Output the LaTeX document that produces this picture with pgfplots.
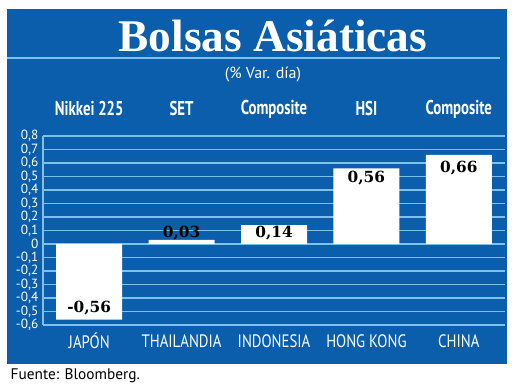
\documentclass[border=0pt]{standalone}
\usepackage{pgfplots}
\pgfplotsset{compat=1.18}
\usepackage{fontspec}
\setmainfont{PT Sans}
\newfontfamily\titlefont{Liberation Serif}
\newfontfamily\condfont[FakeStretch=0.82]{PT Sans}
\newfontfamily\condbold[FakeStretch=0.74]{PT Sans Bold}
\newfontfamily\valfont{DejaVu Serif}
\definecolor{panelblue}{RGB}{10,94,171}
\definecolor{gridblue}{RGB}{125,192,236}
\begin{document}
\begin{tikzpicture}[x=0.75pt,y=0.75pt]
\path[use as bounding box] (0,0) rectangle (520,391);
\fill[panelblue] (7,27) rectangle (507,382);
\fill[gridblue] (7,331.5) rectangle (500,333.5);
\node[text=white, font=\titlefont\bfseries\fontsize{34}{40}\selectfont] at (273,355) {Bolsas Asiáticas};
\node[text=white, font=\fontsize{12}{14}\selectfont] at (263,316) {(\% Var. día)};
\node[anchor=west, text=black, font=\fontsize{11.5}{14}\selectfont] at (6,15) {Fuente: Bloomberg.};
\coordinate (axc) at (274,160.5);
\begin{axis}[
  at={(axc)}, anchor=center, scale only axis,
  width=346.5pt, height=141.75pt,
  xmin=-0.5, xmax=4.5, ymin=-0.6, ymax=0.8,
  ybar, bar width=49.5pt,
  axis lines=left,
  axis line style={draw=gridblue, line width=1.2pt, -},
  ymajorgrids, grid style={draw=gridblue, line width=1.2pt},
  major tick length=0pt,
  ytick={-0.6,-0.5,-0.4,-0.3,-0.2,-0.1,0,0.1,0.2,0.3,0.4,0.5,0.6,0.7,0.8},
  xtick={0,1,2,3,4},
  xticklabels={JAPÓN,THAILANDIA,INDONESIA,HONG KONG,CHINA},
  xticklabel style={anchor=center, yshift=-12pt, text=white, font=\condfont\fontsize{13.5}{15}\selectfont},
  yticklabel style={text=white, font=\fontsize{10}{10}\selectfont, xshift=0pt},
  /pgf/number format/.cd, use comma, fixed, precision=1, assume math mode=true,
  /pgfplots/.cd,
  clip=false,
]
\addplot[fill=white, draw=none] coordinates {(0,-0.56) (1,0.03) (2,0.14) (3,0.56) (4,0.66)};
\node[font=\valfont\bfseries\fontsize{11.5}{14}\selectfont] at (axis cs:0,-0.474) {-0,56};
\node[font=\valfont\bfseries\fontsize{11.5}{14}\selectfont] at (axis cs:1,0.081) {0,03};
\node[font=\valfont\bfseries\fontsize{11.5}{14}\selectfont] at (axis cs:2,0.081) {0,14};
\node[font=\valfont\bfseries\fontsize{11.5}{14}\selectfont] at (axis cs:3,0.49) {0,56};
\node[font=\valfont\bfseries\fontsize{11.5}{14}\selectfont] at (axis cs:4,0.563) {0,66};
\node[text=white, font=\condbold\fontsize{15}{17}\selectfont] at (axis cs:0,1.0) {Nikkei 225};
\node[text=white, font=\condbold\fontsize{15}{17}\selectfont] at (axis cs:1,1.0) {SET};
\node[text=white, font=\condbold\fontsize{15}{17}\selectfont] at (axis cs:2,1.0) {Composite};
\node[text=white, font=\condbold\fontsize{15}{17}\selectfont] at (axis cs:3,1.0) {HSI};
\node[text=white, font=\condbold\fontsize{15}{17}\selectfont] at (axis cs:4,1.0) {Composite};
\end{axis}
\end{tikzpicture}
\end{document}
